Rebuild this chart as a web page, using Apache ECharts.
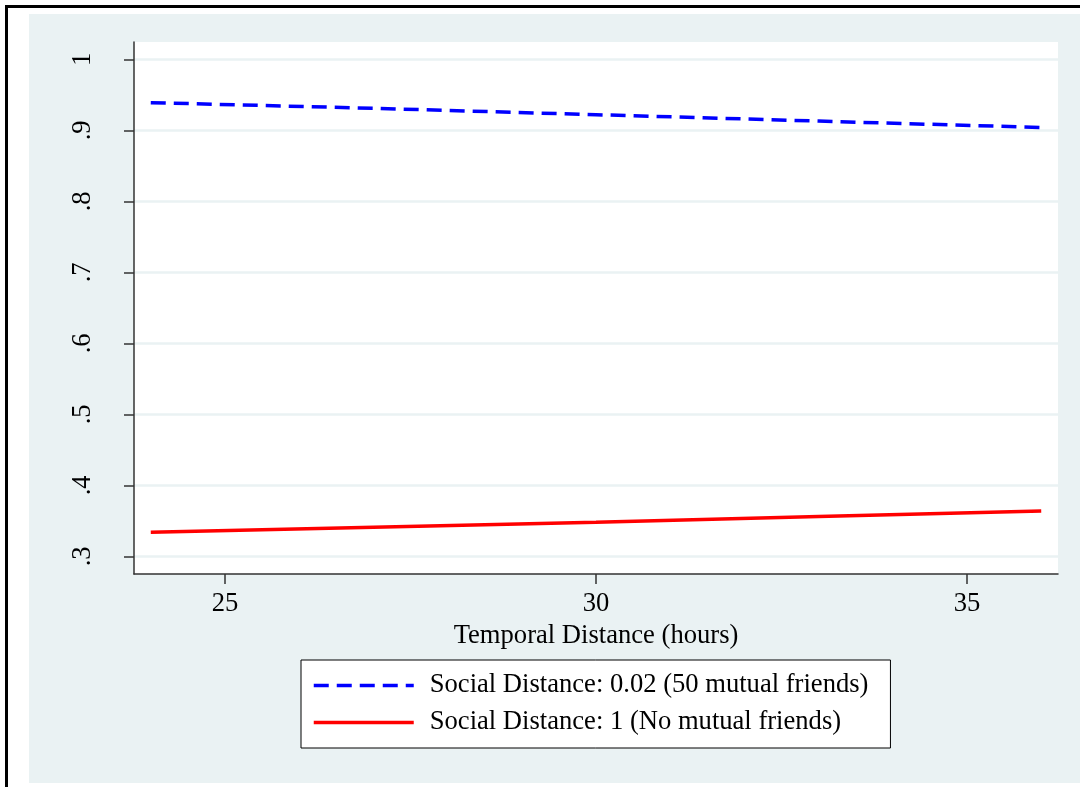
<!DOCTYPE html>
<html>
<head>
<meta charset="utf-8">
<script src="https://cdn.jsdelivr.net/npm/echarts@6/dist/echarts.min.js"></script>
<style>
  html, body { margin: 0; padding: 0; background: #ffffff; }
  #page { position: relative; width: 1080px; height: 787px; overflow: hidden; background: #ffffff; }
  #frame { position: absolute; left: 5px; top: 5px; right: -10px; bottom: -10px;
           border-top: 3px solid #000; border-left: 3px solid #000; }
  #chart { position: absolute; left: 29px; top: 14px; width: 1051px; height: 769px; }
</style>
</head>
<body>
<div id="page">
  <div id="frame"></div>
  <div id="chart"></div>
</div>
<script>
// Predicted probability by temporal distance, for two social distances
const hours = [24, 27, 30, 33, 36];
const nearFriends = [0.939, 0.931, 0.922, 0.913, 0.904];   // Social distance 0.02
const noFriends   = [0.334, 0.341, 0.348, 0.356, 0.364];   // Social distance 1

const xTicks = [25, 30, 35];
const yTicks = [0.3, 0.4, 0.5, 0.6, 0.7, 0.8, 0.9, 1.0];
const yTickLabels = ['.3', '.4', '.5', '.6', '.7', '.8', '.9', '1'];

const seriesNames = [
  'Social Distance: 0.02 (50 mutual friends)',
  'Social Distance: 1 (No mutual friends)'
];

const FONT = '"Liberation Serif", "DejaVu Serif", serif';
const GRID_COLOR = '#EAF2F3';
const AXIS_COLOR = '#333333';

const chart = echarts.init(document.getElementById('chart'), null, { renderer: 'canvas' });

chart.setOption({
  backgroundColor: GRID_COLOR,
  animation: false,
  textStyle: { fontFamily: FONT },
  grid: {
    left: 105, top: 28, right: 22, bottom: 209,
    show: true, backgroundColor: '#ffffff', borderWidth: 0
  },
  xAxis: {
    type: 'value',
    min: 23.774, max: 36.226,
    name: 'Temporal Distance (hours)',
    nameLocation: 'middle',
    nameGap: 42,
    nameTextStyle: { fontFamily: FONT, fontSize: 26.6, color: '#000', lineHeight: 26 },
    axisLine: { show: true, onZero: false, lineStyle: { color: AXIS_COLOR, width: 1.5 } },
    axisTick: { show: true, length: 10, customValues: xTicks, lineStyle: { color: AXIS_COLOR, width: 1.5 } },
    axisLabel: {
      customValues: xTicks, margin: 17,
      fontFamily: FONT, fontSize: 26.6, color: '#000', lineHeight: 26
    },
    splitLine: { show: false }
  },
  yAxis: {
    type: 'value',
    min: 0.2751, max: 1.0244,
    axisLine: { show: true, onZero: false, lineStyle: { color: AXIS_COLOR, width: 1.5 } },
    axisTick: { show: true, length: 10, customValues: yTicks, lineStyle: { color: AXIS_COLOR, width: 1.5 } },
    axisLabel: {
      customValues: yTicks, rotate: 90, margin: 38,
      fontFamily: FONT, fontSize: 26.6, color: '#000', lineHeight: 26,
      formatter: function (v) {
        const i = yTicks.findIndex(t => Math.abs(t - v) < 1e-6);
        return i >= 0 ? yTickLabels[i] : '';
      }
    },
    splitLine: { show: true, lineStyle: { color: GRID_COLOR, width: 2.5 } }
  },
  legend: {
    show: true,
    orient: 'vertical',
    left: 272, top: 646,
    backgroundColor: '#ffffff',
    borderColor: '#000000', borderWidth: 1,
    padding: [12, 22, 12, 11],
    itemWidth: 100, itemHeight: 26, itemGap: 10,
    // line-only keys: hide the marker symbol drawn in the middle of each key
    itemStyle: { opacity: 0, borderWidth: 0 },
    lineStyle: { width: 3.5 },
    textStyle: { fontFamily: FONT, fontSize: 26.6, color: '#000', padding: [0, 0, 0, 11] },
    selectedMode: false,
    data: seriesNames
  },
  series: [
    {
      name: seriesNames[0],
      type: 'line',
      data: hours.map((h, i) => [h, nearFriends[i]]),
      showSymbol: false, symbol: 'none',
      lineStyle: { color: '#0000FF', width: 3.5, type: [15, 8] },
      itemStyle: { color: '#0000FF' },
      z: 3
    },
    {
      name: seriesNames[1],
      type: 'line',
      data: hours.map((h, i) => [h, noFriends[i]]),
      showSymbol: false, symbol: 'none',
      lineStyle: { color: '#FF0000', width: 3.5 },
      itemStyle: { color: '#FF0000' },
      z: 3
    }
  ]
});
</script>
</body>
</html>
